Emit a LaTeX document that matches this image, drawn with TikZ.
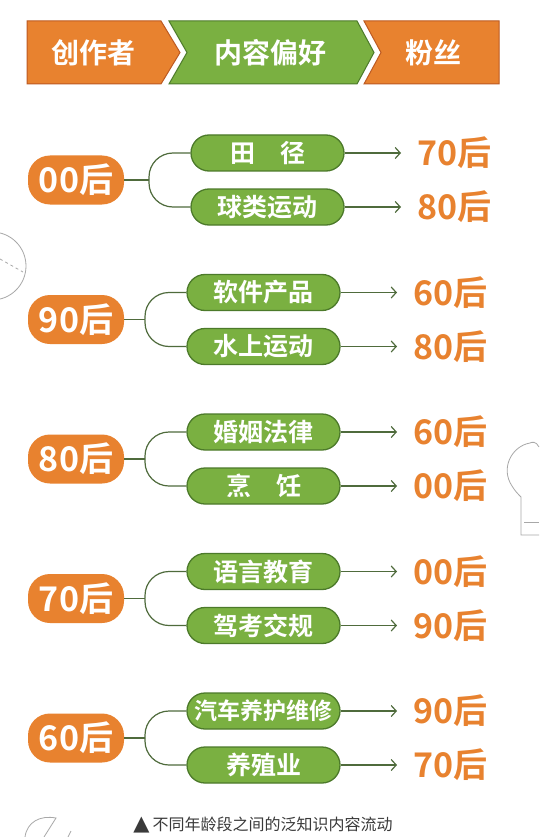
\documentclass[tikz,border=0pt]{standalone}
\usepackage{fontspec}
\setmainfont{Noto Sans CJK SC}[BoldFont={Noto Sans CJK SC Bold}]
\newfontfamily\symfont{DejaVu Sans}
\usetikzlibrary{arrows.meta}
\definecolor{org}{HTML}{E8822F}
\definecolor{orgd}{HTML}{BC5A22}
\definecolor{grn}{HTML}{7AB041}
\definecolor{grnd}{HTML}{4C7A2A}
\definecolor{lnk}{HTML}{4F6B3C}
\definecolor{deco}{HTML}{A8A8A8}
\definecolor{capc}{HTML}{3A3A3A}
\begin{document}
\begin{tikzpicture}[x=1pt,y=-1pt,
  hdr/.style={font=\fontsize{28}{30}\selectfont\bfseries, text=white, inner sep=0pt},
  hshape/.style={line width=1pt, line join=miter},
  pill/.style={fill=org, rounded corners=22pt, minimum width=96pt, minimum height=49pt,
    text=white, font=\fontsize{34}{36}\selectfont\bfseries, inner sep=0pt},
  topic/.style={fill=grn, draw=grnd, line width=1.3pt, rounded corners=18pt,
    minimum width=153pt, minimum height=36pt, text=white,
    font=\fontsize{25}{27}\selectfont\bfseries, inner sep=0pt},
  gen/.style={text=org, font=\fontsize{34}{36}\selectfont\bfseries, anchor=west, inner sep=0pt},
  link/.style={draw=lnk, line width=1.2pt},
  flow/.style={link, -{Straight Barb[length=5pt,width=11pt]}},
  deco/.style={draw=deco, line width=0.8pt},
]
\useasboundingbox[fill=white] (0,0) rectangle (539,837);

% header chevrons
\path[hshape, fill=org, draw=orgd] (27,21) -- (161,21) -- (180,52.5) -- (161,84) -- (27,84) -- cycle;
\path[hshape, fill=grn, draw=grnd] (169,21) -- (357,21) -- (374,52.5) -- (357,84) -- (169,84) -- (187,52.5) -- cycle;
\path[hshape, fill=org, draw=orgd] (364,21) -- (499,21) -- (499,84) -- (364,84) -- (381,52.5) -- cycle;
\node[hdr] (h1) at (93,52.5) {创作者};
\node[hdr] (h2) at (270,52.5) {内容偏好};
\node[hdr] (h3) at (433,52.5) {粉丝};

% groups
\foreach \i/\c/\s/\g/\ta/\tb/\la/\lb in {
  1/180/4/00后/{田\quad 径}/球类运动/70后/80后,
  2/319.5/0/90后/软件产品/水上运动/60后/80后,
  3/459/0/80后/婚姻法律/{烹\quad 饪}/60后/00后,
  4/598.5/0/70后/语言教育/驾考交规/00后/90后,
  5/738/0/60后/{\fontsize{23}{25}\selectfont 汽车养护维修}/养殖业/90后/70后}{
  \node[pill] (p\i) at (76,\c) {\g};
  \node[topic] (t\i) at (263.5+\s,\c-27) {\ta};
  \node[topic] (b\i) at (263.5+\s,\c+27) {\tb};
  \node[gen] (lt\i) at (413+\s,\c-27) {\la};
  \node[gen] (lb\i) at (413+\s,\c+27) {\lb};
  \coordinate (j\i) at (145+\s,\c);
  \draw[link] (p\i.east) -- (j\i);
  \draw[link, rounded corners=24pt] (t\i.west) -| (j\i);
  \draw[link, rounded corners=24pt] (b\i.west) -| (j\i);
  \draw[flow, shorten >=16pt] (t\i.east) -- (lt\i.west);
  \draw[flow, shorten >=16pt] (b\i.east) -- (lb\i.west);
}

% caption
\node[text=capc, font=\fontsize{16}{18}\selectfont, inner sep=0pt] (cap) at (263,825)
  {{\symfont\fontsize{21}{18}\selectfont ▲}\hspace{3pt}不同年龄段之间的泛知识内容流动};

% decorations
\draw[deco] (-8,266) circle[radius=34];
\draw[deco, dashed] (0,259) -- (23,272);
\draw[deco] (539,447) .. controls (536,441) and (532,442) .. (530,443)
  .. controls (512,446) and (500,468) .. (512,486)
  .. controls (515,491) and (518,494) .. (521,497) -- (521,535) -- (539,535);
\draw[deco] (524,522) -- (539,522);
\draw[deco] (25,837) .. controls (27,822) and (40,815) .. (56,818) -- (44,837);
\draw[deco] (68,837) -- (71,831);
\end{tikzpicture}
\end{document}
